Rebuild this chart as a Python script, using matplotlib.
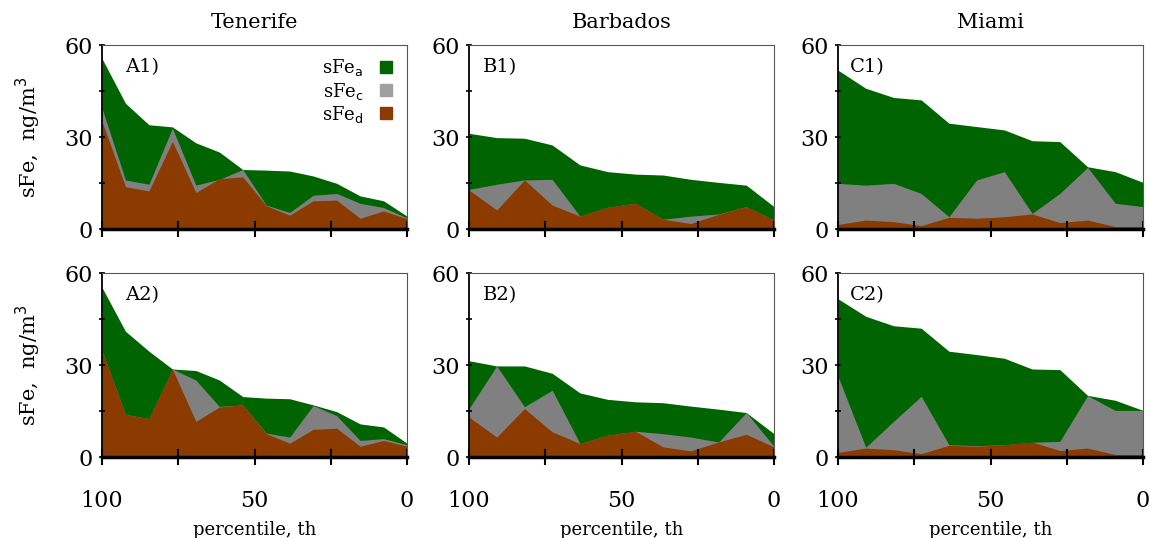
import numpy as np
import matplotlib
matplotlib.use('Agg')
import matplotlib.pyplot as plt
from matplotlib.lines import Line2D

plt.rcParams['font.family'] = ['DejaVu Serif']

sites = ['Tenerife', 'Barbados', 'Miami']

# percentile axis (Tenerife has 14 points, Barbados and Miami 12)
pct_ten = np.linspace(100, 0, 14)
pct_bar = np.linspace(100, 0, 12)
pct_mia = np.linspace(100, 0, 12)

# sFe total (green), sFe_c (gray) and sFe_d (brown), ng/m3
ten1_tot = [55.6, 41.0, 34.0, 33.3, 28.1, 25.1, 19.4, 19.2, 18.9, 17.3, 14.9, 10.8, 9.2, 4.2]
ten1_c = [39.4, 16.0, 14.6, 32.9, 14.3, 16.2, 19.4, 7.8, 5.4, 11.0, 11.6, 8.4, 7.0, 3.6]
ten1_d = [35.1, 13.8, 12.4, 28.6, 11.9, 16.4, 17.0, 7.6, 4.5, 9.2, 9.4, 3.5, 5.9, 3.3]

ten2_tot = [55.3, 41.0, 34.5, 28.7, 28.2, 25.1, 19.7, 19.2, 19.0, 17.0, 14.8, 10.8, 9.8, 4.5]
ten2_c = [34.7, 13.9, 12.5, 28.7, 25.1, 16.5, 17.0, 7.8, 6.5, 16.8, 13.5, 5.4, 6.0, 4.0]
ten2_d = [34.7, 13.9, 12.5, 28.7, 11.6, 16.3, 17.0, 7.6, 4.5, 9.0, 9.4, 3.5, 5.4, 3.5]

bar1_tot = [31.2, 29.8, 29.6, 27.4, 20.9, 18.7, 17.9, 17.6, 16.2, 15.2, 14.3, 7.3]
bar1_c = [12.9, 14.6, 16.0, 16.2, 4.2, 7.1, 8.4, 3.2, 4.2, 4.9, 7.3, 2.9]
bar1_d = [12.7, 6.2, 16.0, 7.8, 4.2, 7.1, 8.4, 3.2, 1.8, 4.8, 7.3, 2.9]

bar2_tot = [31.4, 29.7, 29.7, 27.3, 20.9, 18.8, 18.0, 17.7, 16.6, 15.6, 14.5, 7.6]
bar2_c = [15.8, 29.7, 16.4, 21.8, 4.4, 7.1, 8.4, 7.6, 6.5, 4.9, 14.5, 3.5]
bar2_d = [13.0, 6.5, 15.8, 8.2, 4.4, 7.1, 8.4, 3.3, 2.0, 4.9, 7.4, 3.3]

mia1_tot = [51.8, 45.9, 42.9, 42.1, 34.5, 33.4, 32.3, 28.8, 28.5, 20.3, 18.7, 15.2]
mia1_c = [14.9, 14.3, 14.9, 11.6, 4.0, 16.0, 18.7, 5.1, 11.6, 20.1, 8.4, 7.3]
mia1_d = [1.5, 2.9, 2.4, 1.1, 3.8, 3.5, 4.0, 4.9, 2.1, 2.9, 0.8, 0.8]

mia2_tot = [51.6, 45.9, 42.8, 42.0, 34.5, 33.4, 32.2, 28.7, 28.5, 20.1, 18.5, 15.2]
mia2_c = [26.3, 3.2, 11.6, 19.8, 4.0, 3.7, 4.0, 4.8, 5.1, 20.0, 15.2, 15.2]
mia2_d = [1.5, 2.9, 2.4, 1.1, 3.8, 3.5, 4.0, 4.9, 2.1, 2.9, 0.8, 0.8]

panels = [
    [('A1)', pct_ten, ten1_tot, ten1_c, ten1_d),
     ('B1)', pct_bar, bar1_tot, bar1_c, bar1_d),
     ('C1)', pct_mia, mia1_tot, mia1_c, mia1_d)],
    [('A2)', pct_ten, ten2_tot, ten2_c, ten2_d),
     ('B2)', pct_bar, bar2_tot, bar2_c, bar2_d),
     ('C2)', pct_mia, mia2_tot, mia2_c, mia2_d)],
]

green = '#006400'
gray = '#808080'
brown = '#8b3a00'

W, H = 1150, 538
fig = plt.figure(figsize=(W / 100, H / 100), dpi=100)

lefts = [102, 469, 838]
tops = [45, 273]
aw, ah = 305, 184
lab_x = [0.075, 0.045, 0.038]

for r in range(2):
    for col in range(3):
        lab, x, tot, c, d = panels[r][col]
        ax = fig.add_axes([lefts[col] / W, 1 - (tops[r] + ah) / H, aw / W, ah / H])
        ax.fill_between(x, 0, tot, color=green, lw=0)
        ax.fill_between(x, 0, c, color=gray, lw=0)
        ax.fill_between(x, 0, d, color=brown, lw=0)
        ax.set_xlim(100, 0)
        ax.set_ylim(0, 60)
        ax.set_xticks([100, 75, 50, 25, 0])
        ax.set_yticks([0, 15, 30, 45, 60])
        ax.set_yticklabels(['0', '', '30', '', '60'], fontsize=16)
        ax.tick_params(axis='y', direction='inout', length=5, width=1.2, pad=4)
        ax.tick_params(axis='x', direction='inout', length=12, width=1.5)
        if r == 1:
            ax.set_xticklabels(['100', '', '50', '', '0'], fontsize=16)
            ax.tick_params(axis='x', pad=18)
            ax.set_xlabel('percentile, th', fontsize=13, labelpad=6)
        else:
            ax.set_xticklabels([])
            ax.set_title(sites[col], fontsize=15, pad=12)
        for s in ['top', 'right']:
            ax.spines[s].set_color('#555555')
            ax.spines[s].set_linewidth(0.8)
        ax.spines['left'].set_linewidth(1.3)
        ax.spines['bottom'].set_linewidth(2.5)
        ax.text(lab_x[col], 0.93, lab, transform=ax.transAxes, fontsize=14,
                va='top', ha='left')

    fig.text(28 / W, 1 - (tops[r] + ah / 2) / H, 'sFe,  ng/m$^3$', rotation=90,
             fontsize=15, ha='center', va='center')

# legend in A1
ax0 = fig.axes[0]
handles = [Line2D([], [], ls='', marker='s', markersize=8.5, color=green),
           Line2D([], [], ls='', marker='s', markersize=8.5, color='#a0a0a0'),
           Line2D([], [], ls='', marker='s', markersize=8.5, color=brown)]
ax0.legend(handles, [r'sFe$_\mathrm{a}$', r'sFe$_\mathrm{c}$', r'sFe$_\mathrm{d}$'],
           loc='upper right', frameon=False, markerfirst=False, fontsize=13,
           handletextpad=0.45, handlelength=1.6, labelspacing=0.12,
           borderaxespad=0.0, borderpad=0.2, bbox_to_anchor=(0.99, 0.952))

fig.savefig('out.png', dpi=100)
